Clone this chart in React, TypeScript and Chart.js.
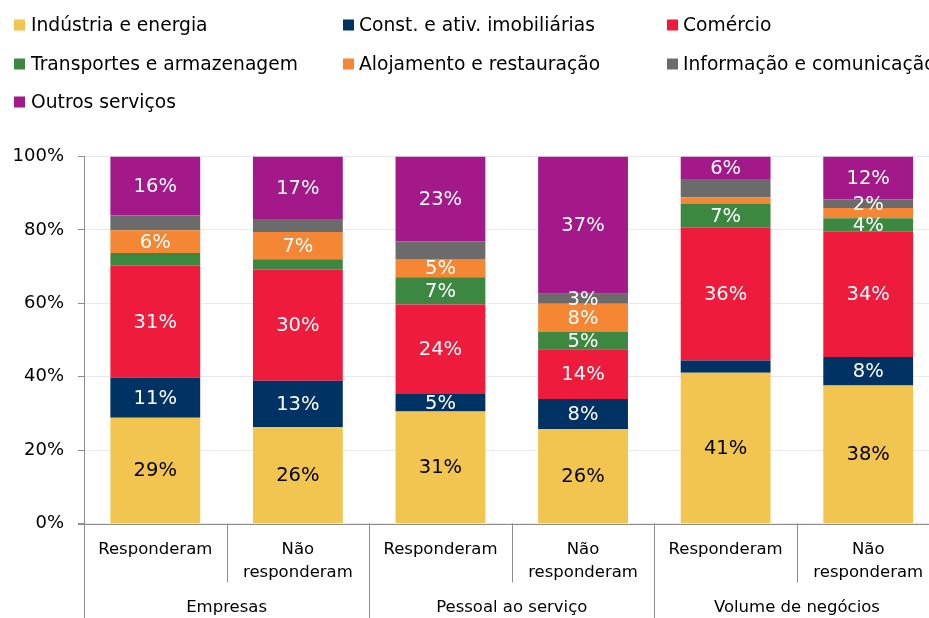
import React, { useEffect, useRef } from "react";
import { Chart, registerables } from "chart.js";

Chart.register(...registerables);

const subCategories: string[][] = [
  ["Responderam"],
  ["Não", "responderam"],
  ["Responderam"],
  ["Não", "responderam"],
  ["Responderam"],
  ["Não", "responderam"],
];
const groupLabels = ["Empresas", "Pessoal ao serviço", "Volume de negócios"];

const seriesNames = [
  "Indústria e energia",
  "Const. e ativ. imobiliárias",
  "Comércio",
  "Transportes e armazenagem",
  "Alojamento e restauração",
  "Informação e comunicação",
  "Outros serviços",
];
const seriesColors = ["#F1C550", "#003264", "#EE1B3C", "#3D8841", "#F58634", "#6B6B6B", "#A3198A"];

const industria = [28.8, 26.3, 30.5, 25.7, 41.1, 37.6];
const construcao = [10.9, 12.6, 4.8, 8.2, 3.3, 7.8];
const comercio = [30.6, 30.3, 24.4, 13.6, 36.2, 34.1];
const transportes = [3.4, 2.8, 7.4, 4.7, 6.6, 3.7];
const alojamento = [6.2, 7.4, 5.0, 7.7, 1.7, 2.8];
const informacao = [4.0, 3.6, 4.8, 2.7, 5.0, 2.3];
const outros = [16.1, 17.0, 23.1, 37.4, 6.1, 11.7];

// which segments carry a value label
const showIndustria = [true, true, true, true, true, true];
const showConstrucao = [true, true, true, true, false, true];
const showComercio = [true, true, true, true, true, true];
const showTransportes = [false, false, true, true, true, true];
const showAlojamento = [true, true, true, true, false, false];
const showInformacao = [false, false, false, true, false, true];
const showOutros = [true, true, true, true, true, true];

const yTicks = [0, 20, 40, 60, 80, 100];

const FONT = "'DejaVu Sans', sans-serif";
const AXIS_GRAY = "#8C8C8C";

export default function App() {
  const ref = useRef<HTMLCanvasElement | null>(null);

  useEffect(() => {
    if (!ref.current) return;
    const values = [industria, construcao, comercio, transportes, alojamento, informacao, outros];
    const shows = [showIndustria, showConstrucao, showComercio, showTransportes, showAlojamento, showInformacao, showOutros];

    const labelPlugin = {
      id: "segLabels",
      afterDatasetsDraw(chart: any) {
        const ctx = chart.ctx;
        ctx.save();
        ctx.font = `19.5px ${FONT}`;
        ctx.textAlign = "center";
        ctx.textBaseline = "middle";
        chart.data.datasets.forEach((ds: any, di: number) => {
          const meta = chart.getDatasetMeta(di);
          meta.data.forEach((bar: any, i: number) => {
            if (!shows[di][i]) return;
            const v = ds.data[i];
            const cy = (bar.y + bar.base) / 2;
            ctx.fillStyle = di === 0 ? "#000000" : "#FFFFFF";
            ctx.fillText(Math.round(v) + "%", bar.x, cy + 1);
          });
        });
        ctx.restore();
      },
    };

    const axisPlugin = {
      id: "multiAxis",
      afterDraw(chart: any) {
        const ctx = chart.ctx;
        const area = chart.chartArea;
        const xs = chart.scales.x;
        const n = subCategories.length;
        const w = (area.right - area.left) / n;
        ctx.save();
        ctx.strokeStyle = AXIS_GRAY;
        ctx.lineWidth = 1;
        // x axis line
        ctx.beginPath();
        ctx.moveTo(area.left - 6, Math.round(area.bottom) + 0.5);
        ctx.lineTo(area.right, Math.round(area.bottom) + 0.5);
        ctx.stroke();
        // separators
        for (let i = 0; i <= n; i++) {
          const x = Math.round(area.left + i * w) + 0.5;
          const isGroup = i % 2 === 0;
          ctx.beginPath();
          ctx.moveTo(x, area.bottom);
          ctx.lineTo(x, isGroup ? chart.height : area.bottom + 59);
          ctx.stroke();
        }
        ctx.fillStyle = "#000000";
        ctx.textAlign = "center";
        ctx.textBaseline = "middle";
        ctx.font = `16.5px ${FONT}`;
        subCategories.forEach((lines, i) => {
          const cx = xs.getPixelForValue(i);
          lines.forEach((t, li) => {
            ctx.fillText(t, cx, area.bottom + 26 + li * 23);
          });
        });
        groupLabels.forEach((g, gi) => {
          const cx = area.left + (gi * 2 + 1) * w;
          ctx.fillText(g, cx, area.bottom + 84);
        });

        // legend
        ctx.font = `18.7px ${FONT}`;
        ctx.textAlign = "left";
        const colSquare = [14, 343, 667];
        const colText = [31, 359, 683];
        const rowY = [25, 64, 102];
        seriesNames.forEach((name, k) => {
          const col = k % 3;
          const row = Math.floor(k / 3);
          ctx.fillStyle = seriesColors[k];
          ctx.fillRect(colSquare[col], rowY[row] - 5.5, 11, 11);
          ctx.fillStyle = "#000000";
          ctx.fillText(name, colText[col], rowY[row] + 1);
        });
        ctx.restore();
      },
    };

    const chart = new Chart(ref.current, {
      type: "bar",
      data: {
        labels: subCategories.map((l) => l.join(" ")),
        datasets: seriesNames.map((name, k) => ({
          label: name,
          data: values[k],
          backgroundColor: seriesColors[k],
          borderWidth: 0,
          categoryPercentage: 1,
          barPercentage: 0.63,
        })),
      },
      options: {
        responsive: false,
        animation: false,
        layout: { padding: { top: 156.5, left: 0, right: 5.5, bottom: 94.5 } },
        plugins: { legend: { display: false }, tooltip: { enabled: false } },
        scales: {
          x: { stacked: true, display: false },
          y: {
            stacked: true,
            min: 0,
            max: 100,
            afterFit: (s: any) => {
              s.width = 84;
            },
            afterBuildTicks: (s: any) => {
              s.ticks = yTicks.map((v) => ({ value: v }));
            },
            ticks: {
              padding: 14,
              color: "#000000",
              font: { family: FONT, size: 18 },
              callback: (v: any) => v + "%",
            },
            grid: {
              color: "#E9E9E9",
              lineWidth: 1,
              tickLength: 6,
              tickColor: AXIS_GRAY,
            },
            border: { color: AXIS_GRAY, width: 1 },
          },
        },
      },
      plugins: [labelPlugin, axisPlugin],
    });
    return () => chart.destroy();
  }, []);

  return (
    <div style={{ position: "absolute", left: 0, top: 0, width: 929, height: 618, overflow: "hidden", background: "#FFFFFF" }}>
      <canvas ref={ref} width={945} height={618} style={{ display: "block" }} />
    </div>
  );
}
